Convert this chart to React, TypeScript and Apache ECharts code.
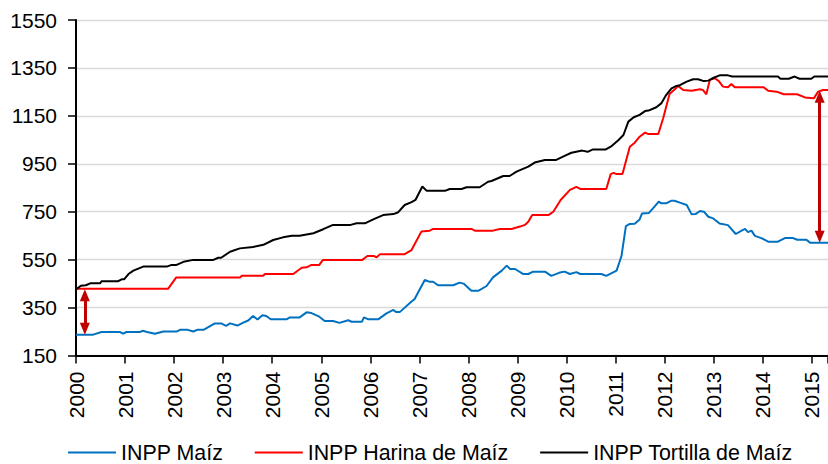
import React, { useEffect, useRef } from "react";
import * as echarts from "echarts";

const seriesNames = ["INPP Maíz", "INPP Harina de Maíz", "INPP Tortilla de Maíz"];
const seriesColors = ["#0070C0", "#FF0000", "#000000"];

const maiz: [number, number][] = [
  [2000.0, 237], [2000.35, 237], [2000.52, 248], [2000.9, 248], [2000.96, 241], [2001.03, 248], [2001.3, 248],
  [2001.36, 253], [2001.45, 248], [2001.61, 241], [2001.78, 250], [2002.05, 250], [2002.12, 257], [2002.28, 257],
  [2002.39, 250], [2002.47, 257], [2002.6, 257], [2002.83, 284], [2002.96, 284], [2003.06, 274], [2003.14, 284],
  [2003.29, 275], [2003.41, 287], [2003.51, 296], [2003.61, 315], [2003.7, 300], [2003.8, 318], [2003.88, 315],
  [2003.97, 301], [2004.29, 301], [2004.36, 309], [2004.56, 309], [2004.7, 330], [2004.8, 327], [2004.96, 312],
  [2005.07, 294], [2005.24, 294], [2005.37, 286], [2005.55, 297], [2005.62, 291], [2005.83, 291], [2005.87, 309],
  [2005.96, 301], [2006.16, 301], [2006.33, 326], [2006.47, 340], [2006.53, 331], [2006.6, 331], [2006.84, 375],
  [2006.9, 385], [2007.11, 465], [2007.2, 458], [2007.28, 458], [2007.38, 443], [2007.69, 443], [2007.82, 454],
  [2007.9, 450], [2008.06, 420], [2008.2, 420], [2008.37, 440], [2008.5, 476], [2008.68, 504], [2008.78, 525],
  [2008.85, 511], [2008.95, 511], [2009.12, 490], [2009.22, 490], [2009.32, 500], [2009.56, 500], [2009.69, 482],
  [2009.86, 496], [2009.96, 500], [2010.07, 490], [2010.2, 498], [2010.28, 490], [2010.71, 490], [2010.81, 482],
  [2011.02, 504], [2011.12, 565], [2011.21, 690], [2011.29, 699], [2011.39, 700], [2011.49, 718], [2011.54, 743],
  [2011.68, 745], [2011.78, 768], [2011.88, 792], [2011.93, 785], [2012.03, 785], [2012.14, 796], [2012.2, 796],
  [2012.31, 788], [2012.45, 778], [2012.55, 739], [2012.63, 740], [2012.72, 753], [2012.8, 750], [2012.89, 729],
  [2012.99, 722], [2013.12, 701], [2013.29, 694], [2013.45, 657], [2013.57, 671], [2013.64, 678], [2013.7, 665],
  [2013.77, 671], [2013.84, 649], [2013.97, 640], [2014.11, 625], [2014.31, 625], [2014.45, 640], [2014.62, 640],
  [2014.7, 633], [2014.89, 633], [2014.97, 620], [2015.33, 620],
];

const harina: [number, number][] = [
  [2000, 429], [2001.88, 429], [2002.04, 475], [2003.34, 475], [2003.38, 483], [2003.82, 483], [2003.85, 490],
  [2004.43, 490], [2004.6, 516], [2004.7, 518], [2004.8, 528], [2004.96, 528], [2005.03, 548], [2005.83, 548],
  [2005.94, 565], [2006.07, 565], [2006.13, 560], [2006.2, 573], [2006.7, 573], [2006.84, 590], [2007.04, 667],
  [2007.21, 671], [2007.28, 678], [2008.06, 678], [2008.13, 671], [2008.5, 671], [2008.64, 678], [2008.88, 678],
  [2009.05, 688], [2009.15, 695], [2009.22, 708], [2009.3, 736], [2009.63, 736], [2009.73, 750], [2009.88, 799],
  [2010.07, 841], [2010.2, 854], [2010.28, 845], [2010.81, 845], [2010.9, 907], [2010.96, 912], [2011.02, 907],
  [2011.14, 907], [2011.29, 1021], [2011.39, 1038], [2011.49, 1063], [2011.6, 1080], [2011.67, 1074],
  [2011.87, 1074], [2011.97, 1140], [2012.1, 1241], [2012.23, 1265], [2012.27, 1275], [2012.38, 1258],
  [2012.55, 1255], [2012.72, 1261], [2012.78, 1258], [2012.85, 1240], [2012.92, 1300], [2013.02, 1307],
  [2013.1, 1296], [2013.19, 1272], [2013.29, 1269], [2013.36, 1283], [2013.43, 1269], [2014.02, 1269],
  [2014.11, 1255], [2014.28, 1251], [2014.43, 1240], [2014.7, 1240], [2014.86, 1227], [2015.04, 1223],
  [2015.13, 1251], [2015.23, 1258], [2015.33, 1258],
];

const tortilla: [number, number][] = [
  [2000, 426], [2000.1, 441], [2000.2, 443], [2000.29, 451], [2000.49, 451], [2000.52, 460], [2000.86, 460],
  [2000.93, 468], [2000.98, 468], [2001.07, 490], [2001.17, 504], [2001.37, 521], [2001.85, 521], [2001.95, 528],
  [2002.05, 528], [2002.19, 541], [2002.39, 549], [2002.8, 549], [2002.9, 558], [2002.96, 558], [2003.14, 583],
  [2003.34, 597], [2003.61, 603], [2003.82, 612], [2004.02, 632], [2004.22, 643], [2004.4, 650], [2004.56, 650],
  [2004.84, 660], [2005.04, 677], [2005.24, 695], [2005.6, 695], [2005.72, 702], [2005.9, 702], [2006.06, 718],
  [2006.26, 736], [2006.47, 740], [2006.57, 748], [2006.7, 778], [2006.84, 790], [2006.92, 799], [2007.06, 855],
  [2007.15, 837], [2007.52, 837], [2007.62, 845], [2007.86, 845], [2007.96, 852], [2008.23, 852], [2008.4, 875],
  [2008.47, 878], [2008.71, 899], [2008.84, 899], [2008.98, 917], [2009.22, 938], [2009.35, 955], [2009.56, 966],
  [2009.79, 966], [2009.96, 983], [2010.1, 996], [2010.32, 1005], [2010.43, 1000], [2010.54, 1010], [2010.8, 1010],
  [2010.92, 1024], [2011.06, 1049], [2011.16, 1070], [2011.26, 1126], [2011.37, 1144], [2011.49, 1154],
  [2011.6, 1170], [2011.67, 1172], [2011.83, 1186], [2011.93, 1202], [2012.03, 1237], [2012.14, 1265],
  [2012.24, 1275], [2012.31, 1278], [2012.45, 1293], [2012.58, 1303], [2012.68, 1303], [2012.8, 1295],
  [2012.89, 1297], [2013.0, 1309], [2013.12, 1319], [2013.29, 1319], [2013.38, 1314], [2014.31, 1314],
  [2014.36, 1305], [2014.53, 1305], [2014.65, 1314], [2014.75, 1305], [2014.99, 1305], [2015.05, 1314],
  [2015.33, 1314],
];

// double-headed arrows: [x, top value, bottom value]
const gapArrows: [number, number, number][] = [
  [2000.18, 426, 237],
  [2015.16, 1255, 621],
];

const xMin = 2000;
const xMax = 2015.33;
const yMin = 150;
const yMax = 1550;
const yStep = 200;

const FONT = "'Liberation Sans', Arial, sans-serif";

export default function App() {
  const ref = useRef<HTMLDivElement>(null);
  useEffect(() => {
    if (!ref.current) return;
    const chart = echarts.init(ref.current, undefined, { renderer: "svg" });
    const arrowInset = 25; // value units so the triangle tips touch the lines
    const lineData = [maiz, harina, tortilla];
    chart.setOption({
      animation: false,
      textStyle: { fontFamily: FONT },
      grid: { left: 76, right: 0, top: 20, bottom: 108.5 },
      legend: {
        left: 68,
        top: 442,
        padding: 0,
        itemWidth: 48,
        itemHeight: 2,
        itemGap: 31.5,
        icon: "rect",
        textStyle: { fontFamily: FONT, fontSize: 21.4, color: "#000" },
        data: seriesNames,
      },
      xAxis: {
        type: "value",
        min: xMin,
        max: xMax,
        interval: 1,
        splitLine: { show: false },
        axisLine: { lineStyle: { color: "#000", width: 2 } },
        axisTick: { show: true, length: 8, inside: false, lineStyle: { color: "#000", width: 1.5 } },
        axisLabel: {
          rotate: 90,
          margin: 16,
          fontFamily: FONT,
          fontSize: 21,
          color: "#000",
          formatter: (v: number) => (Math.abs(v - Math.round(v)) < 1e-6 ? String(Math.round(v)) : ""),
        },
      },
      yAxis: {
        type: "value",
        min: yMin,
        max: yMax,
        interval: yStep,
        axisLine: { show: true, lineStyle: { color: "#000", width: 2 } },
        axisTick: { show: true, length: 8, lineStyle: { color: "#000", width: 1.5 } },
        splitLine: { show: true, lineStyle: { color: "#D9D9D9", width: 1.3 } },
        axisLabel: {
          margin: 19,
          fontFamily: FONT,
          fontSize: 21,
          color: "#000",
          formatter: (v: number) => String(Math.round(v)),
        },
      },
      series: seriesNames.map((name, i) => ({
        name,
        type: "line",
        data: lineData[i],
        showSymbol: false,
        symbol: "none",
        color: seriesColors[i],
        lineStyle: { color: seriesColors[i], width: 2 },
        z: 2 + i,
        markLine:
          i === 1
            ? {
                silent: true,
                symbol: ["triangle", "triangle"],
                symbolSize: [10, 12],
                label: { show: false },
                lineStyle: { color: "#C00000", width: 3, type: "solid" },
                itemStyle: { color: "#C00000" },
                data: gapArrows.map(([x, top, bottom]) => [
                  { coord: [x, top - arrowInset] },
                  { coord: [x, bottom + arrowInset] },
                ]),
              }
            : undefined,
      })),
    });
    return () => chart.dispose();
  }, []);
  return (
    <div
      ref={ref}
      style={{ position: "fixed", left: 0, top: 0, width: 828, height: 464, background: "#fff" }}
    />
  );
}
